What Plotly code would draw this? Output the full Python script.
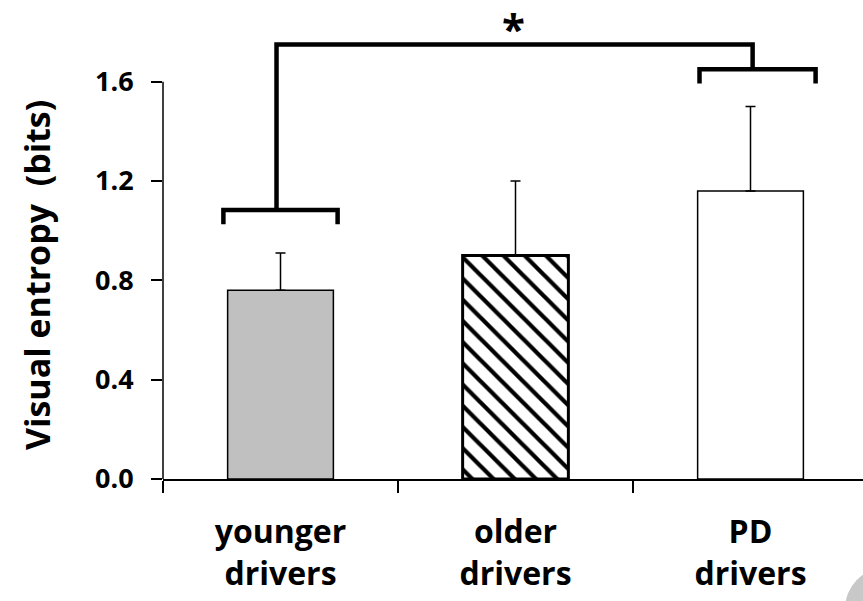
import plotly.graph_objects as go

categories = ["younger<br>drivers", "older<br>drivers", "PD<br>drivers"]
means = [0.76, 0.90, 1.16]
errors = [0.15, 0.30, 0.34]
fill_colors = ["#c0c0c0", "white", "white"]
patterns = ["", "\\", ""]
outline_widths = [1.5, 3, 1.5]
y_ticks = [0.0, 0.4, 0.8, 1.2, 1.6]

# significance bracket (category index, value)
left_legs_x = [-0.243, 0.243]
left_stem_x = -0.017
right_legs_x = [1.783, 2.277]
right_stem_x = 2.009
bracket_top = 1.75
left_group_y = [1.026, 1.083]
right_group_y = [1.593, 1.65]
star_x = 0.99
star_y = 1.82

FONT = "Open Sans"

fig = go.Figure()
for i in range(len(categories)):
    marker = dict(color=fill_colors[i], line=dict(color="black", width=outline_widths[i]))
    if patterns[i]:
        marker["pattern"] = dict(shape=patterns[i], fgcolor="black", fgopacity=1,
                                 bgcolor="white", size=15, solidity=0.28)
    fig.add_trace(go.Bar(
        x=[categories[i]], y=[means[i]], width=0.45, marker=marker,
        error_y=dict(type="data", symmetric=False, array=[errors[i]],
                     arrayminus=[0], thickness=1.5, width=5, color="black"),
        showlegend=False,
    ))

line_style = dict(color="black", width=4.5)
fig.add_trace(go.Scatter(
    x=[left_legs_x[0], left_legs_x[0], left_legs_x[1], left_legs_x[1]],
    y=[left_group_y[0], left_group_y[1], left_group_y[1], left_group_y[0]],
    xaxis="x2", mode="lines", line=line_style, showlegend=False, hoverinfo="skip"))
fig.add_trace(go.Scatter(
    x=[right_legs_x[0], right_legs_x[0], right_legs_x[1], right_legs_x[1]],
    y=[right_group_y[0], right_group_y[1], right_group_y[1], right_group_y[0]],
    xaxis="x2", mode="lines", line=line_style, showlegend=False, hoverinfo="skip"))
fig.add_trace(go.Scatter(
    x=[left_stem_x, left_stem_x, right_stem_x, right_stem_x],
    y=[left_group_y[1], bracket_top, bracket_top, right_group_y[1]],
    xaxis="x2", mode="lines", line=line_style, showlegend=False, hoverinfo="skip"))

fig.add_annotation(x=star_x, y=star_y, xref="x2", yref="y", text="*", showarrow=False,
                   font=dict(family=FONT, size=42, color="black", weight="bold"),
                   yanchor="middle")

# y-axis title
fig.add_annotation(x=(37 - 163) / 700, y=(479 - 275) / 479, xref="paper", yref="paper",
                   text="Visual entropy\u00a0 (bits)", textangle=-90, showarrow=False,
                   xanchor="center", yanchor="middle",
                   font=dict(family=FONT, size=34, color="black", weight="bold"))

# y axis line (drawn only up to 1.6)
fig.add_shape(type="line", xref="paper", yref="y", x0=0, x1=0, y0=0, y1=1.6,
              line=dict(color="black", width=1.5))

# decorative grey circle at the bottom right corner
fig.add_shape(type="circle", xref="paper", yref="paper",
              x0=(845 - 163) / 700, x1=(925 - 163) / 700,
              y0=(479 - 650) / 479, y1=(479 - 568) / 479,
              fillcolor="#c8c8c8", line=dict(width=0), layer="above")

fig.update_layout(
    width=863, height=601,
    margin=dict(l=163, r=0, t=0, b=122),
    plot_bgcolor="white", paper_bgcolor="white",
    font=dict(family=FONT, color="black", weight="bold"),
    barmode="overlay",
    xaxis=dict(
        type="category",
        range=[-0.5, 2.4787], showline=True, linecolor="black", linewidth=1.5,
        ticks="outside", tickson="boundaries", ticklen=12, tickwidth=1.5, tickcolor="black",
        tickfont=dict(family=FONT, size=32, color="black", weight="bold"),
        ticklabelstandoff=24,
        showgrid=False, zeroline=False,
    ),
    xaxis2=dict(overlaying="x", range=[-0.5, 2.4787], visible=False),
    yaxis=dict(
        range=[0, 1.929], showline=False, tickvals=y_ticks, tickformat=".1f",
        ticks="outside", ticklen=11, tickwidth=1.5, tickcolor="black",
        tickfont=dict(family=FONT, size=27, color="black", weight="bold"),
        ticklabelstandoff=12,
        showgrid=False, zeroline=False,
    ),
)

fig.write_html("out.html")
